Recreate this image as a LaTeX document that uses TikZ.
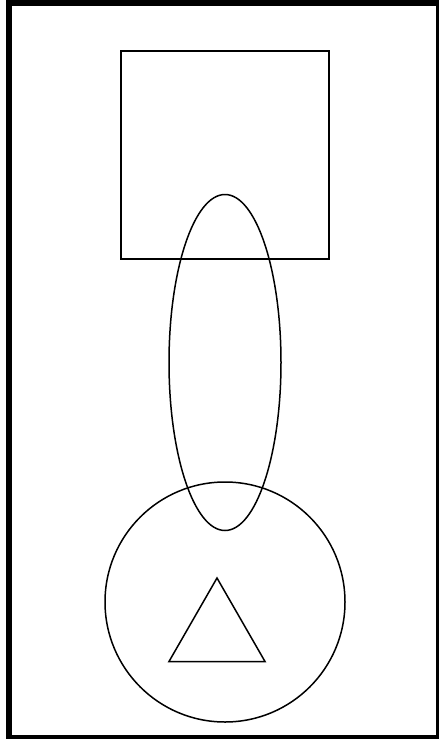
\documentclass[tikz,border=0pt]{standalone}
\usetikzlibrary{shapes.geometric}
\begin{document}
\begin{tikzpicture}[x=1pt,y=-1pt,
  shape line/.style={draw=black,line width=1.5pt},
  frame line/.style={draw=black,line width=6pt}]
\useasboundingbox (0,0) rectangle (439,739);
\clip (0,0) rectangle (439,739);
\fill[white] (0,0) rectangle (439,739);
\draw[frame line] (9,3) rectangle (439,738);
\node[shape line,rectangle,minimum width=208pt,minimum height=208pt,inner sep=0pt] (sq) at (225,155) {};
\node[shape line,ellipse,minimum width=112pt,minimum height=336pt,inner sep=0pt] (el) at (225,362.5) {};
\node[shape line,circle,minimum size=240pt,inner sep=0pt] (ci) at (225,602) {};
\coordinate (ta) at (217,578);
\coordinate (tl) at (169,661.5);
\coordinate (tr) at (265,661.5);
\draw[shape line,line join=miter] (ta) -- (tr) -- (tl) -- cycle;
\end{tikzpicture}
\end{document}
